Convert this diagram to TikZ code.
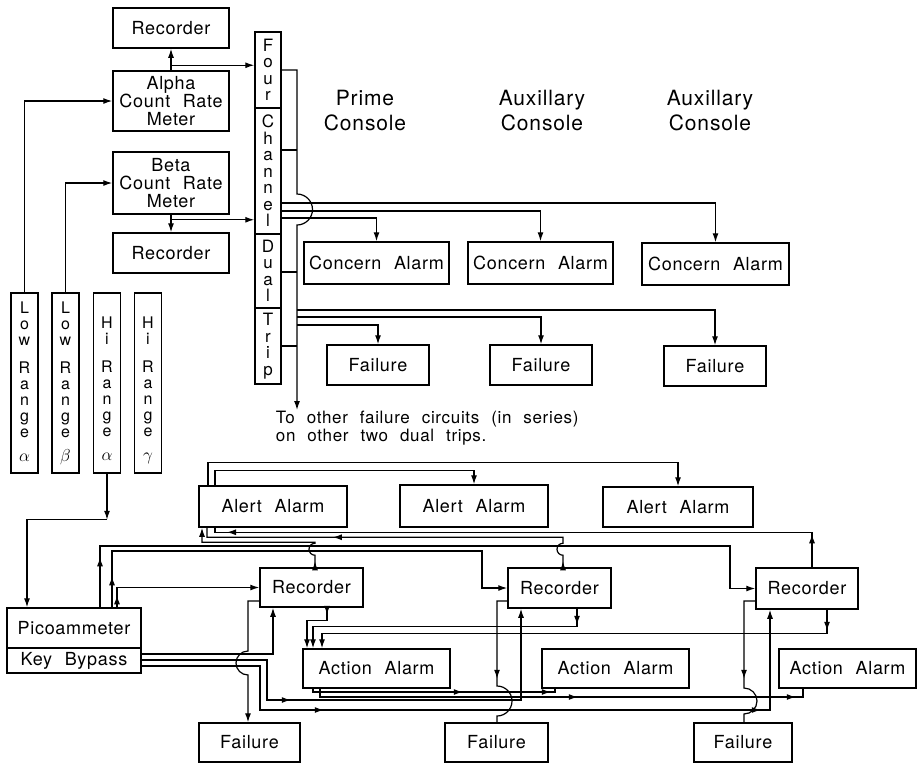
\documentclass[tikz,border=0pt]{standalone}
\usepackage{amsmath}
\usepackage{fontspec}
\setmainfont{TeX Gyre Heros}[LetterSpace=4,WordSpace=2.2]
\usetikzlibrary{arrows.meta,decorations.markings}
\newcommand{\boxfont}{\fontsize{18}{18}\selectfont}
\newcommand{\letterfont}{\fontsize{16}{16}\selectfont}
\newcommand{\chanfont}{\fontsize{17}{16.5}\selectfont}
\newcommand{\headfont}{\fontsize{21}{25}\selectfont}
\newcommand{\notefont}{\fontsize{17}{18}\selectfont}
\tikzset{
    ar/.tip={Latex[length=9pt,width=6pt]},
    blk/.style={draw, line width=1.5pt, inner sep=0pt, align=center, font=\boxfont},
    sz/.style 2 args={minimum width=#1, minimum height=#2},
    rangebar/.style={draw, line width=1.5pt, inner sep=0pt, minimum width=27pt, minimum height=180pt},
    letters/.style={align=center, inner sep=0pt, font=\letterfont},
    arrowat/.style={postaction={decorate, decoration={markings, mark=at position #1 with {\arrow{ar}}}}}
}

\begin{document}
\begin{tikzpicture}[x=1pt, y=-1pt, line width=1.2pt, >=ar]
\useasboundingbox (0,0) rectangle (919,764);

\node[blk, sz={116}{40}] (recA) at (171,28) {Recorder};
\node[blk, sz={116}{60}] (alpha) at (171,101) {Alpha\\Count Rate\\Meter};
\node[blk, sz={116}{62}] (beta) at (171,183) {Beta\\Count Rate\\Meter};
\node[blk, sz={116}{40}] (recB) at (171,253) {Recorder};

\node[blk, sz={26}{76}, font=\chanfont] (four) at (268,70) {F\\o\\u\\r};
\node[blk, sz={26}{126}, font=\chanfont] (chan) at (268,171) {C\\h\\a\\n\\n\\e\\l};
\node[blk, sz={26}{74}, font=\chanfont] (dual) at (268,271) {D\\u\\a\\l};
\node[blk, sz={26}{76}, font=\chanfont] (trip) at (268,346) {T\\r\\i\\p};

\node[font=\headfont, align=center, anchor=north] (prime) at (365,86) {Prime\\Console};
\node[font=\headfont, align=center, anchor=north] (auxA) at (542,86) {Auxillary\\Console};
\node[font=\headfont, align=center, anchor=north] (auxB) at (710,86) {Auxillary\\Console};

\node[blk, sz={145}{42}] (ca1) at (376.5,263) {Concern Alarm};
\node[blk, sz={145}{42}] (ca2) at (540.5,263) {Concern Alarm};
\node[blk, sz={147}{42}] (ca3) at (715.5,264) {Concern Alarm};
\node[blk, sz={102}{40}] (fa1) at (378,365) {Failure};
\node[blk, sz={102}{40}] (fa2) at (541,365) {Failure};
\node[blk, sz={102}{40}] (fa3) at (715,366) {Failure};

\node[font=\notefont, align=left, anchor=north west] (note) at (272,407) {To other failure circuits (in series)\\on other two dual trips.};

\node[rangebar] (lra) at (24.5,383) {};
\node[letters, anchor=north] (lratxt) at (24.5,301) {L\\o\\w\\[12pt]R\\a\\n\\g\\e\\[8pt]$\alpha$};
\node[rangebar] (lrb) at (65.5,383) {};
\node[letters, anchor=north] (lrbtxt) at (65.5,301) {L\\o\\w\\[12pt]R\\a\\n\\g\\e\\[8pt]$\beta$};
\node[rangebar] (hra) at (107,383) {};
\node[letters, anchor=north] (hratxt) at (107,316) {H\\i\\[12pt]R\\a\\n\\g\\e\\[8pt]$\alpha$};
\node[rangebar] (hrg) at (148,383) {};
\node[letters, anchor=north] (hrgtxt) at (148,316) {H\\i\\[12pt]R\\a\\n\\g\\e\\[8pt]$\gamma$};

\node[blk, sz={134}{40}] (pico) at (74,628) {Picoammeter};
\node[blk, sz={134}{25}] (key) at (74,660.5) {Key Bypass};

\node[blk, sz={148}{41}] (aa1) at (273,506.5) {Alert Alarm};
\node[blk, sz={148}{42}] (aa2) at (474,506) {Alert Alarm};
\node[blk, sz={150}{40}] (aa3) at (678,507) {Alert Alarm};
\node[blk, sz={103}{39}] (rec1) at (311.5,587.5) {Recorder};
\node[blk, sz={103}{40}] (rec2) at (559.5,588) {Recorder};
\node[blk, sz={102}{41}] (rec3) at (807,588.5) {Recorder};
\node[blk, sz={147}{39}] (act1) at (376.5,668.5) {Action Alarm};
\node[blk, sz={147}{39}] (act2) at (615.5,668.5) {Action Alarm};
\node[blk, sz={137}{39}] (act3) at (847.5,668.5) {Action Alarm};
\node[blk, sz={101}{39}] (fl1) at (249.5,742.5) {Failure};
\node[blk, sz={103}{39}] (fl2) at (496.5,742.5) {Failure};
\node[blk, sz={98}{39}] (fl3) at (743,742.5) {Failure};

\draw[->] (alpha.north) -- (recA.south);
\coordinate (aout) at ([yshift=5pt]alpha.north);
\draw[->] (aout) -- (aout -| four.west);
\draw[->] (beta.south) -- (recB.north);
\coordinate (bout) at ([yshift=-5pt]beta.south);
\draw[->] (bout) -- (bout -| chan.west);
\draw[->] (lra.north) |- (alpha.west);
\draw[->] (lrb.north) |- (beta.west);
\draw[->] (hra.south) -- ++(0,46) coordinate (hbend);
\draw[->] (hbend) -| (pico.north -| 27,0);

\coordinate (bus) at (297,0);
\draw[->] (four.east) -| (bus |- 0,194) arc[start angle=-90, end angle=90, radius=15.5] -- (bus |- 0,410);
\draw (chan.east |- 0,150) -- (bus |- 0,150);
\draw (dual.east |- 0,272) -- (bus |- 0,272);
\draw (trip.east |- 0,346) -- (bus |- 0,346);
\draw[->] (chan.east |- 0,203) -| (ca3.north);
\draw[->] (chan.east |- 0,211) -| (ca2.north);
\draw[->] (chan.east |- 0,218) -| (ca1.north);
\draw[->] (bus |- 0,310) -| (fa3.north);
\draw[->] (bus |- 0,317) -| (fa2.north);
\draw[->] (bus |- 0,325) -| (fa1.north);

\draw[->] (aa1.north -| 208,0) -- ++(0,-23) -| (aa3.north);
\draw[->] (aa1.north -| 215,0) -- ++(0,-15) -| (aa2.north);
\draw[->, arrowat=6pt] (rec1.north -| 315,0) -- ++(0,-12) arc[start angle=90, end angle=270, radius=6] -- ++(0,-1) -| (aa1.south -| 202,0);
\draw[arrowat=6pt, arrowat=267pt] (rec2.north -| 563,0) -- ++(0,-12) arc[start angle=90, end angle=270, radius=6] -- ++(0,-6) -| (aa1.south -| 207,0);
\draw[arrowat=33pt, arrowat=620pt] (rec3.north -| 812,0) -- ++(0,-35) -| (aa1.south -| 215,0);

\draw[->, arrowat=50pt] (pico.north -| 100,0) |- (730,546) |- (rec3.west);
\draw[->, arrowat=31pt] (pico.north -| 112,0) |- (482,551) |- (rec2.west);
\draw[->, arrowat=12pt] (pico.north -| 117,0) |- (rec1.west);

\draw[->, arrowat=7pt] (rec1.south -| 327,0) -- ++(0,13) -| (act1.north -| 307,0);
\draw[->, arrowat=16pt] (rec2.south -| 577,0) -- ++(0,18) -| (act1.north -| 313,0);
\draw[->, arrowat=21pt] (rec3.south -| 827,0) -- ++(0,23.5) -| (act1.north -| 322,0);

\draw[->] (key.east |- 0,654) -| (rec1.south -| 273,0);
\draw[->, arrowat=189pt] (key.east |- 0,660) -| (267,700) -| (rec2.south -| 521,0);
\draw[->, arrowat=226pt, arrowat=663pt] (key.east |- 0,666) -| (260,710) -| (rec3.south -| 770,0);

\draw[->] (rec1.west |- 0,601) -| (248,651) arc[start angle=-90, end angle=-270, radius=12] -- (fl1.north -| 248,0);
\draw[arrowat=88pt] (rec2.west |- 0,601) -| (497,686) arc[start angle=-90, end angle=90, radius=15] -- (fl2.north -| 497,0);
\draw[arrowat=89pt] (rec3.west |- 0,601) -| (744,688) arc[start angle=-90, end angle=90, radius=13] -- (fl3.north -| 744,0);

\draw[arrowat=153pt, arrowat=241pt] (act1.south -| 313,0) |- (555,692) -- (act2.south -| 555,0);
\draw[arrowat=266pt, arrowat=484pt] (act1.south -| 320,0) |- (803,697) -- (act3.south -| 803,0);
\end{tikzpicture}
\end{document}
